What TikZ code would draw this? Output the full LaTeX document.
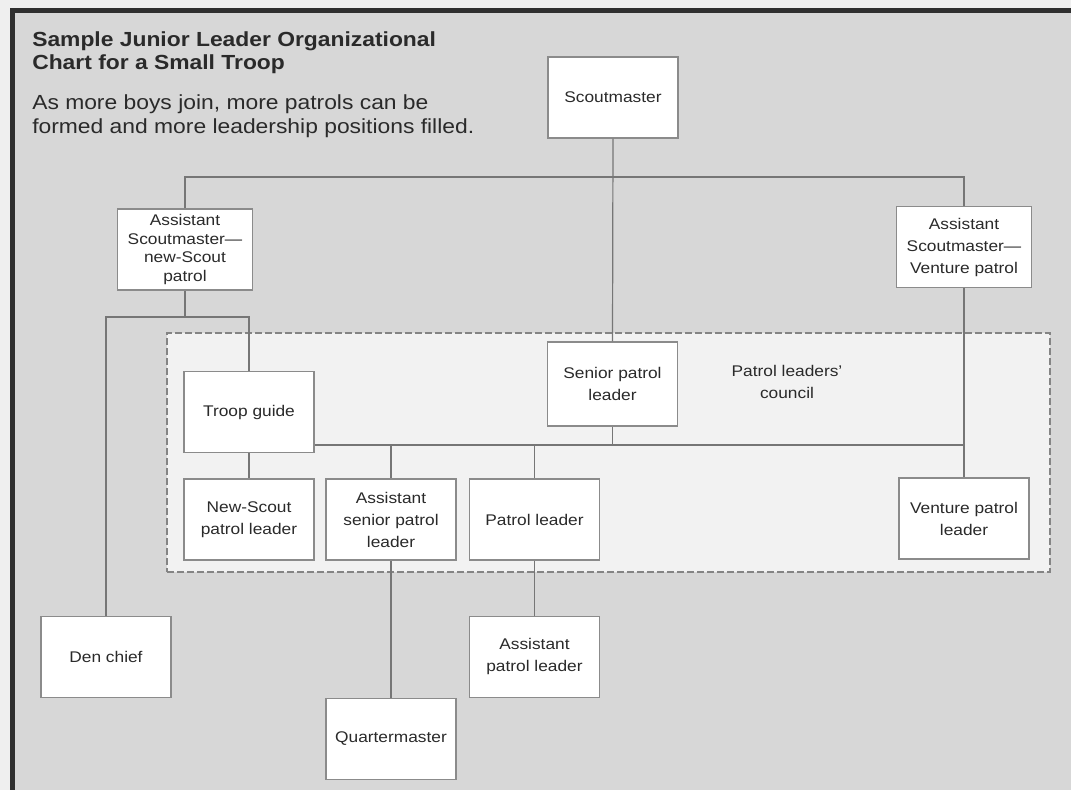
\documentclass[tikz,border=0pt]{standalone}
\usepackage{fontspec}
\setmainfont{Liberation Sans}[FakeStretch=1.12]
\usepackage{xcolor}
\usepackage{tikz}
\usetikzlibrary{positioning}

\definecolor{paper}{HTML}{D7D7D7}
\definecolor{margin}{HTML}{EFEFEF}
\definecolor{frame}{HTML}{2F2F2F}
\definecolor{ink}{HTML}{2A2A2A}
\definecolor{rule}{HTML}{767676}
\definecolor{council}{HTML}{F2F2F2}

\begin{document}
\begin{tikzpicture}[x=0.75pt, y=-0.75pt,
    box/.style={rectangle, draw=rule!85, line width=0.9pt, fill=white, minimum width=97.5pt, minimum height=60.75pt, inner sep=2pt, text=ink, font=\fontsize{11.6}{16.5}\selectfont, align=center},
    widebox/.style={box, minimum width=101.5pt},
    link/.style={draw=rule, line width=0.9pt}
]
    \useasboundingbox (0,0) rectangle (1071,790);

    % Page
    \fill[margin] (0,0) rectangle (1071,790);
    \fill[paper] (12,11) rectangle (1071,790);
    \fill[frame] (10,8) rectangle (1071,13);
    \fill[frame] (10,8) rectangle (15,790);

    % Heading
    \node[anchor=north west, inner sep=0pt, align=left, text=ink, font=\bfseries\fontsize{15.3}{17.3}\selectfont] (title) at (32,31) {Sample Junior Leader Organizational\\Chart for a Small Troop};
    \node[anchor=north west, inner sep=0pt, align=left, text=ink, font=\fontsize{15.3}{18}\selectfont] (note) at (32,94) {As more boys join, more patrols can be\\formed and more leadership positions filled.};

    % Patrol leaders' council
    \node[draw=rule!90, dash pattern=on 5pt off 2.5pt, line width=1pt, fill=council, minimum width=662.25pt, minimum height=179.25pt, inner sep=0pt] (plc) at (608.5,452.5) {};
    \node[text=ink, align=center, font=\fontsize{11.6}{16.5}\selectfont] (plc label) at (787,382) {Patrol leaders'\\council};

    % Adult leaders
    \node[box] (sm) at (613,97.5) {Scoutmaster};
    \node[widebox, font=\fontsize{11.6}{13.9}\selectfont] (asmn) at (185,249.5) {Assistant\\Scoutmaster—\\new-Scout\\patrol};
    \node[widebox] (asmv) at (964,247) {Assistant\\Scoutmaster—\\Venture patrol};

    % Youth leaders
    \node[box, minimum height=63pt] (spl) at (612.5,384) {Senior patrol\\leader};
    \node[box] (tg) at (249,412) {Troop guide};
    \node[box] (nspl) at (249,519.5) {New-Scout\\patrol leader};
    \node[box] (aspl) at (391,519.5) {Assistant\\senior patrol\\leader};
    \node[box] (pl) at (534.5,519.5) {Patrol leader};
    \node[box] (vpl) at (964,518.5) {Venture patrol\\leader};
    \node[box] (dc) at (106,657) {Den chief};
    \node[box, below=102.75pt of aspl] (qm) {Quartermaster};
    \node[box, below=41.25pt of pl] (apl) {Assistant\\patrol leader};

    % Connectors
    \coordinate (top bus) at (613,177);
    \coordinate (split) at (185,317);
    \coordinate (bus) at (612.5,445);
    \draw[link] (sm.south) -- (spl.north);
    \draw[link] (asmn.north) |- (top bus) -| (asmv.north);
    \draw[link] (asmn.south) -- (split);
    \draw[link] (dc.north) |- (split) -| (tg.north);
    \draw[link] (spl.south) -- (bus);
    \draw[link] (tg.east |- bus) -- (bus -| asmv.south);
    \draw[link] (asmv.south) -- (vpl.north);
    \draw[link] (aspl.north |- bus) -- (aspl.north);
    \draw[link] (pl.north |- bus) -- (pl.north);
    \draw[link] (tg.south) -- (nspl.north);
    \draw[link] (aspl.south) -- (qm.north);
    \draw[link] (pl.south) -- (apl.north);
\end{tikzpicture}
\end{document}
